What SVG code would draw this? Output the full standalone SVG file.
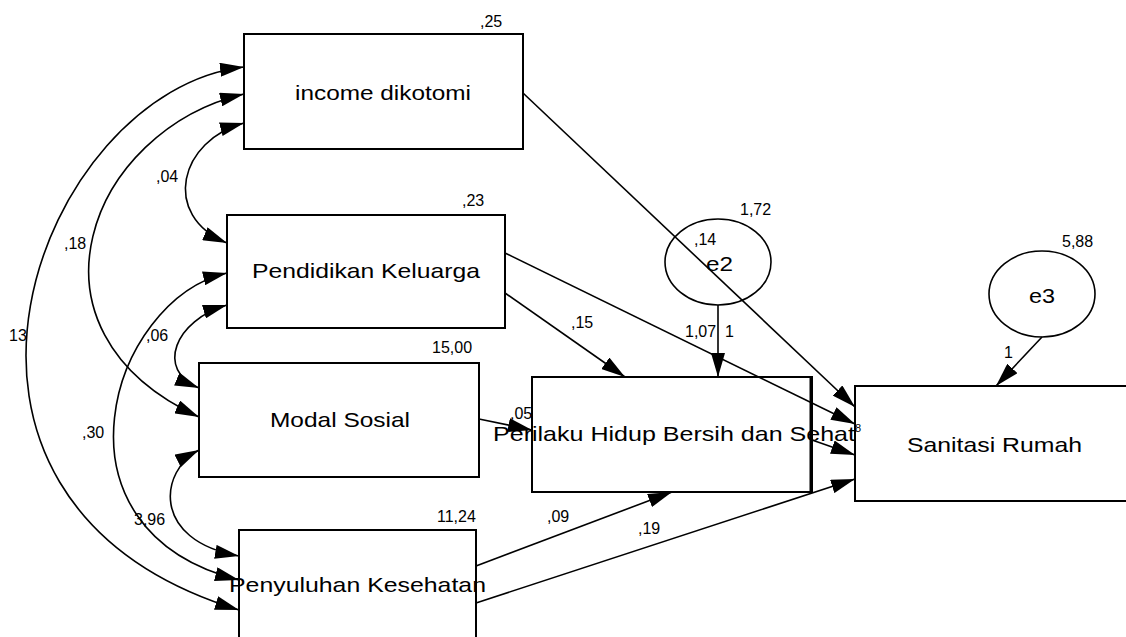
<svg xmlns="http://www.w3.org/2000/svg" width="1126" height="637" viewBox="0 0 1126 637">
<defs>
<style>
.box{fill:#fff;stroke:#000;stroke-width:2}
.ell{fill:#fff;stroke:#000;stroke-width:1.6}
.lbl{font-family:"Liberation Sans",Arial,sans-serif;font-size:21px;fill:#000}
.num{font-family:"Liberation Sans",Arial,sans-serif;font-size:16px;fill:#000}
.c{fill:none;stroke:#000;stroke-width:1.6}
.a{fill:none;stroke:#000;stroke-width:1.6;marker-end:url(#ah)}
.d{fill:none;stroke:#000;stroke-width:1.6;marker-end:url(#ah);marker-start:url(#ahs)}
</style>
<marker id="ah" viewBox="0 0 24 14" refX="24" refY="7" markerWidth="24" markerHeight="14" markerUnits="userSpaceOnUse" orient="auto"><path d="M0,0 L24,7 L0,14 Z" fill="#000"/></marker>
<marker id="ahs" viewBox="0 0 24 14" refX="24" refY="7" markerWidth="24" markerHeight="14" markerUnits="userSpaceOnUse" orient="auto-start-reverse"><path d="M0,0 L24,7 L0,14 Z" fill="#000"/></marker>
</defs>
<rect width="1126" height="637" fill="#fff"/>

<g id="n-income">
<rect class="box" x="244" y="34" width="279" height="115"/>
<text class="lbl" x="295" y="100" textLength="176" lengthAdjust="spacingAndGlyphs">income dikotomi</text>
<text class="num" x="480" y="27">,25</text>
</g>
<g id="n-pendidikan">
<rect class="box" x="227" y="215" width="278" height="113"/>
<text class="lbl" x="252" y="278" textLength="228" lengthAdjust="spacingAndGlyphs">Pendidikan Keluarga</text>
<text class="num" x="462" y="206">,23</text>
</g>
<g id="n-modal">
<rect class="box" x="199" y="363" width="280" height="114"/>
<text class="lbl" x="270" y="427" textLength="140" lengthAdjust="spacingAndGlyphs">Modal Sosial</text>
<text class="num" x="432" y="353">15,00</text>
</g>
<g id="n-penyuluhan">
<rect class="box" x="239" y="530" width="237" height="120"/>
<text class="num" x="437" y="522">11,24</text>
</g>
<g id="n-perilaku">
<rect class="box" x="532" y="377" width="280" height="115"/>
<line x1="811" y1="377" x2="811" y2="492" stroke="#000" stroke-width="3"/>
</g>
<g id="n-sanitasi">
<rect class="box" x="855" y="386" width="280" height="115"/>
<text class="lbl" x="907" y="452" textLength="175" lengthAdjust="spacingAndGlyphs">Sanitasi Rumah</text>
</g>
<g id="n-e2">
<ellipse class="ell" cx="718" cy="262" rx="53" ry="43"/>
<text class="num" x="740" y="215">1,72</text>
</g>
<g id="n-e3">
<ellipse class="ell" cx="1042" cy="294" rx="53" ry="43"/>
<text class="lbl" x="1029" y="303" textLength="26" lengthAdjust="spacingAndGlyphs">e3</text>
<text class="num" x="1062" y="247">5,88</text>
</g>

<g id="connectors">
<path class="d" d="M244,123 C180,140 160,215 227,243"/>
<path class="d" d="M244,94 C90,130 10,330 199,417"/>
<path class="d" d="M244,67 C40,90 -120,500 239,610"/>
<path class="d" d="M227,305 C175,320 155,370 199,388"/>
<path class="d" d="M227,273 C110,300 40,530 239,580"/>
<path class="d" d="M199,450 C160,470 150,540 239,556"/>
<path class="a" d="M523,93 L855,407"/>
<path class="a" d="M505,253 L855,424"/>
<path class="a" d="M505,293 L625,377"/>
<path class="a" d="M479,419 L532,430"/>
<path class="a" d="M718,305 L718,377"/>
<path class="a" d="M812,440 L855,455"/>
<path class="a" d="M476,566 L672,492"/>
<path class="a" d="M476,603 L855,479"/>
<path class="a" d="M1042,337 L996,386"/>
</g>

<g id="labels">
<text class="lbl" x="706" y="271" textLength="27" lengthAdjust="spacingAndGlyphs">e2</text>
<text class="num" x="694" y="245">,14</text>
<text class="num" x="571" y="328">,15</text>
<text class="num" x="685" y="337">1,07</text>
<text class="num" x="725" y="337">1</text>
<text class="num" x="1004" y="358">1</text>
<text class="num" x="510" y="419">,05</text>
<text class="num" x="547" y="522">,09</text>
<text class="num" x="638" y="534">,19</text>
<text class="num" x="156" y="182">,04</text>
<text class="num" x="64" y="249">,18</text>
<text class="num" x="9" y="341">13</text>
<text class="num" x="146" y="341">,06</text>
<text class="num" x="82" y="438">,30</text>
<text class="num" x="134" y="525">3,96</text>
<text class="lbl" x="229" y="592" textLength="257" lengthAdjust="spacingAndGlyphs">Penyuluhan Kesehatan</text>
<text class="lbl" x="493" y="441" textLength="362" lengthAdjust="spacingAndGlyphs">Perilaku Hidup Bersih dan Sehat</text>
<text class="num" x="855" y="432" style="font-size:11px">8</text>
</g>
</svg>
